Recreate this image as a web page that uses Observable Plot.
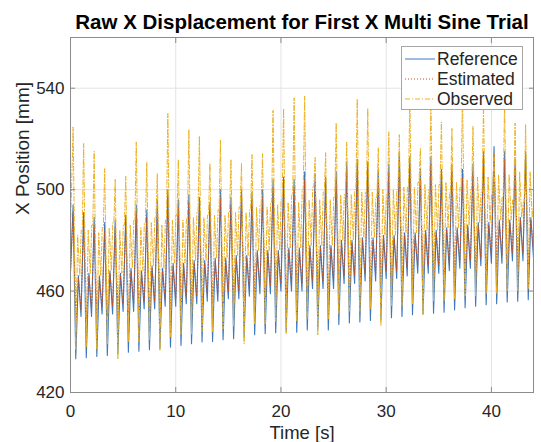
<!DOCTYPE html>
<html>
<head>
<meta charset="utf-8">
<script src="https://cdn.jsdelivr.net/npm/d3@7"></script>
<script src="https://cdn.jsdelivr.net/npm/@observablehq/plot@0.6"></script>
<style>
  body { margin: 0; background: #fff; font-family: "Liberation Sans", Arial, sans-serif; }
  #wrap { position: relative; width: 541px; height: 442px; }
  .legend { position: absolute; left: 401px; top: 46px; width: 122px; height: 64px;
            background: #fff; border: 1px solid #a6a6a6; box-sizing: border-box;
            font-size: 17.5px; color: #262626; }
  .legend .row { position: absolute; left: 0; height: 20px; width: 100%; }
  .legend svg { position: absolute; left: 2px; top: 0; }
  .legend span { position: absolute; left: 35px; top: 0px; line-height: 20px; }
</style>
</head>
<body>
<div id="wrap">
  <div id="chart"></div>
  <div class="legend" id="legend"></div>
</div>
<script>
// Multi-sine trial, one cycle per second; each array holds one value per cycle.
const cycles = d3.range(44);            // cycle index k, cycle spans k+0.25 .. k+1.25 s
const xTicks = [0, 10, 20, 30, 40];
const yTicks = [420, 460, 500, 540];

// Reference trajectory (mm): peak at k+0.25, trough at k+0.5, shoulder at k+0.75, dip at k+1.0
const refPeak = [494, 491, 489, 487, 488, 490, 494, 492, 496, 500, 496, 498, 497, 495, 500, 497, 500, 499, 500, 504,
                 505, 504, 507, 506, 505, 507, 511, 512, 511, 508, 510, 515, 513, 508, 513, 508, 510, 508, 510, 515,
                 517, 515, 512, 515];
const refTrough = [433.3, 433.7, 434.2, 434.6, 435.3, 435.9, 436.3, 436.9, 437.3, 437.9, 438.6, 439.2, 439.9, 440.1,
                   440.8, 441.2, 441.8, 442.8, 443.2, 443.6, 444.0, 443.8, 444.7, 445.0, 444.7, 446.8, 447.4, 447.8,
                   448.4, 448.9, 449.5, 450.0, 450.7, 451.0, 451.3, 451.7, 452.6, 453.4, 454.0, 454.6, 455.0, 455.7,
                   456.0, 456.6];
const refShoulder = [466, 467, 466, 468, 467, 469, 468, 470, 469, 471, 471, 472, 472, 473, 473, 474, 474, 476, 476, 476,
                     477, 477, 478, 478, 478, 480, 480, 481, 481, 482, 482, 483, 483, 484, 484, 485, 485, 486, 487, 487,
                     488, 488, 489, 489];
const refDip = [450, 450, 451, 451, 452, 452, 453, 453, 454, 454, 455, 455, 456, 456, 457, 457, 458, 459, 459, 460,
                460, 460, 461, 461, 461, 463, 463, 464, 464, 465, 465, 466, 467, 467, 467, 468, 469, 469, 470, 471,
                471, 472, 472, 473];

// Estimated position (mm): peak at k+0.25, trough at k+0.52, shoulder at k+0.75, dip at k+1.0
const estPeak = [491, 488, 486, 484, 485, 487, 491, 489, 493, 497, 493, 495, 494, 492, 497, 494, 497, 496, 497, 501,
                 502, 501, 504, 503, 502, 504, 508, 509, 508, 505, 507, 512, 510, 505, 510, 505, 507, 505, 507, 512,
                 514, 512, 509, 512];
const estTrough = [448, 449, 449, 450, 450, 451, 451, 452, 452, 453, 453, 454, 454, 455, 455, 456, 456, 457, 457, 458,
                   458, 458, 459, 459, 459, 461, 461, 462, 462, 463, 463, 464, 464, 465, 465, 466, 466, 467, 467, 468,
                   468, 469, 469, 470];
const estShoulder = [465, 466, 465, 467, 466, 468, 467, 469, 468, 470, 470, 471, 471, 472, 472, 473, 473, 475, 475, 475,
                     476, 476, 477, 477, 477, 479, 479, 480, 480, 481, 481, 482, 482, 483, 483, 484, 484, 485, 486, 486,
                     487, 487, 488, 488];
const estDip = [453, 453, 454, 454, 455, 455, 456, 456, 457, 457, 458, 458, 459, 459, 460, 460, 461, 462, 462, 463,
                463, 463, 464, 464, 464, 466, 466, 467, 467, 468, 468, 469, 470, 470, 470, 471, 472, 472, 473, 474,
                474, 475, 475, 476];

// Observed position (mm): peak at k+0.25, trough at k+0.5, high at k+0.68, low at k+0.88,
// plateau from k+1.02 to k+1.12
const obsPeak = [524.7, 518.2, 515.1, 508.3, 504.0, 505.3, 518.8, 510.7, 506.3, 530.0, 511.9, 523.7, 521.1, 510.3,
                 519.5, 511.9, 510.3, 513.8, 514.2, 531.3, 532.0, 536.2, 536.9, 512.7, 514.6, 526.3, 518.8, 535.8,
                 532.0, 516.5, 522.8, 521.7, 536.0, 516.2, 534.0, 526.7, 524.1, 538.0, 525.0, 533.0, 514.0, 535.0,
                 526.3, 525.7];
const obsTrough = [437, 438, 437, 439, 433.3, 440, 440, 441, 436.6, 442, 443, 443, 444, 444, 445, 446, 439.2, 447, 447,
                   448, 443.2, 448, 449, 442.5, 449, 451, 452, 452, 453, 446.4, 454, 454, 455, 450.7, 456, 456, 457,
                   458, 458, 459, 459, 460, 460, 461];
const obsHigh = [482, 484, 483, 485, 484, 486, 485, 487, 486, 488, 488, 489, 489, 490, 490, 491, 491, 493, 493, 494,
                 495, 495, 496, 496, 496, 498, 498, 499, 499, 500, 500, 501, 501, 502, 502, 503, 503, 504, 505, 505,
                 506, 506, 507, 507];
const obsLow = [466, 467, 466, 468, 467, 469, 468, 470, 469, 471, 471, 472, 472, 473, 473, 474, 474, 476, 476, 476,
                477, 477, 478, 478, 478, 480, 480, 481, 481, 482, 482, 483, 483, 484, 484, 485, 485, 486, 487, 487,
                488, 488, 489, 489];
const obsPlateau = [484, 486, 485, 487, 486, 488, 487, 489, 488, 490, 489, 491, 490, 492, 491, 493, 492, 494, 495, 496,
                    498, 500, 501, 499, 497, 498, 500, 499, 497, 498, 500, 501, 503, 500, 502, 499, 501, 500, 499, 498,
                    497, 496, 495, 494];

// Assemble time series from the per-cycle key points
const reference = [{t: 0, v: 468}];
const estimated = [{t: 0, v: 467}];
const observed = [{t: 0, v: 485}];
for (const k of cycles) {
  reference.push({t: k + 0.25, v: refPeak[k]}, {t: k + 0.5, v: refTrough[k]},
                 {t: k + 0.75, v: refShoulder[k]}, {t: k + 1.0, v: refDip[k]});
  estimated.push({t: k + 0.25, v: estPeak[k]}, {t: k + 0.52, v: estTrough[k]},
                 {t: k + 0.75, v: estShoulder[k]}, {t: k + 1.0, v: estDip[k]});
  observed.push({t: k + 0.25, v: obsPeak[k]}, {t: k + 0.5, v: obsTrough[k]},
                {t: k + 0.68, v: obsHigh[k]}, {t: k + 0.88, v: obsLow[k]},
                {t: k + 1.02, v: obsPlateau[k]}, {t: k + 1.12, v: obsPlateau[k]});
}

const colors = {Reference: "#3d78bd", Estimated: "#c8501c", Observed: "#edb120"};
const dashes = {Reference: null, Estimated: "1,2", Observed: "5,2,1,2"};
const textColor = "#262626";

const chart = Plot.plot({
  width: 541,
  height: 442,
  marginLeft: 70,
  marginRight: 8,
  marginTop: 37,
  marginBottom: 50,
  style: {fontFamily: "'Liberation Sans', Arial, sans-serif", fontSize: "17px", color: textColor, background: "#fff"},
  x: {domain: [0, 44]},
  y: {domain: [420, 560]},
  marks: [
    Plot.gridX(xTicks, {stroke: "#e3e3e3", strokeOpacity: 1}),
    Plot.gridY(yTicks, {stroke: "#e3e3e3", strokeOpacity: 1}),
    Plot.line(reference, {x: "t", y: "v", stroke: colors.Reference, strokeWidth: 1.1, clip: true}),
    Plot.line(estimated, {x: "t", y: "v", stroke: colors.Estimated, strokeWidth: 1, strokeDasharray: dashes.Estimated, clip: true}),
    Plot.line(observed, {x: "t", y: "v", stroke: colors.Observed, strokeWidth: 1, strokeDasharray: dashes.Observed, clip: true}),
    Plot.frame({stroke: "#8c8c8c"}),
    Plot.axisX(xTicks, {anchor: "bottom", tickSize: -5, tickPadding: 17, stroke: "#8c8c8c", fill: textColor, fontSize: 17, label: null}),
    Plot.axisX(xTicks, {anchor: "top", tickSize: -5, stroke: "#8c8c8c", tickFormat: () => "", label: null}),
    Plot.axisY(yTicks, {anchor: "left", tickSize: -5, tickPadding: 11, stroke: "#8c8c8c", fill: textColor, fontSize: 17, label: null}),
    Plot.axisY(yTicks, {anchor: "right", tickSize: -5, stroke: "#8c8c8c", tickFormat: () => "", label: null}),
    Plot.text(["Time [s]"], {frameAnchor: "bottom", lineAnchor: "middle", dy: 41, fontSize: 18.5, fill: textColor}),
    Plot.text(["X Position [mm]"], {frameAnchor: "left", dx: -48, rotate: -90, fontSize: 19, fill: textColor}),
    Plot.text(["Raw X Displacement for First X Multi Sine Trial"],
              {frameAnchor: "top", lineAnchor: "middle", dy: -15, fontSize: 20.5, fontWeight: "bold", fill: "#000"})
  ]
});
document.getElementById("chart").appendChild(chart);

// Legend box in the top-right corner of the axes
const legend = document.getElementById("legend");
["Reference", "Estimated", "Observed"].forEach((name, i) => {
  const row = document.createElement("div");
  row.className = "row";
  row.style.top = (2 + i * 20) + "px";
  const sw = d3.create("svg").attr("width", 32).attr("height", 20);
  sw.append("line").attr("x1", 1).attr("x2", 31).attr("y1", 10).attr("y2", 10)
    .attr("stroke", colors[name]).attr("stroke-width", 1)
    .attr("stroke-dasharray", dashes[name]);
  row.appendChild(sw.node());
  const label = document.createElement("span");
  label.textContent = name;
  row.appendChild(label);
  legend.appendChild(row);
});
</script>
</body>
</html>
